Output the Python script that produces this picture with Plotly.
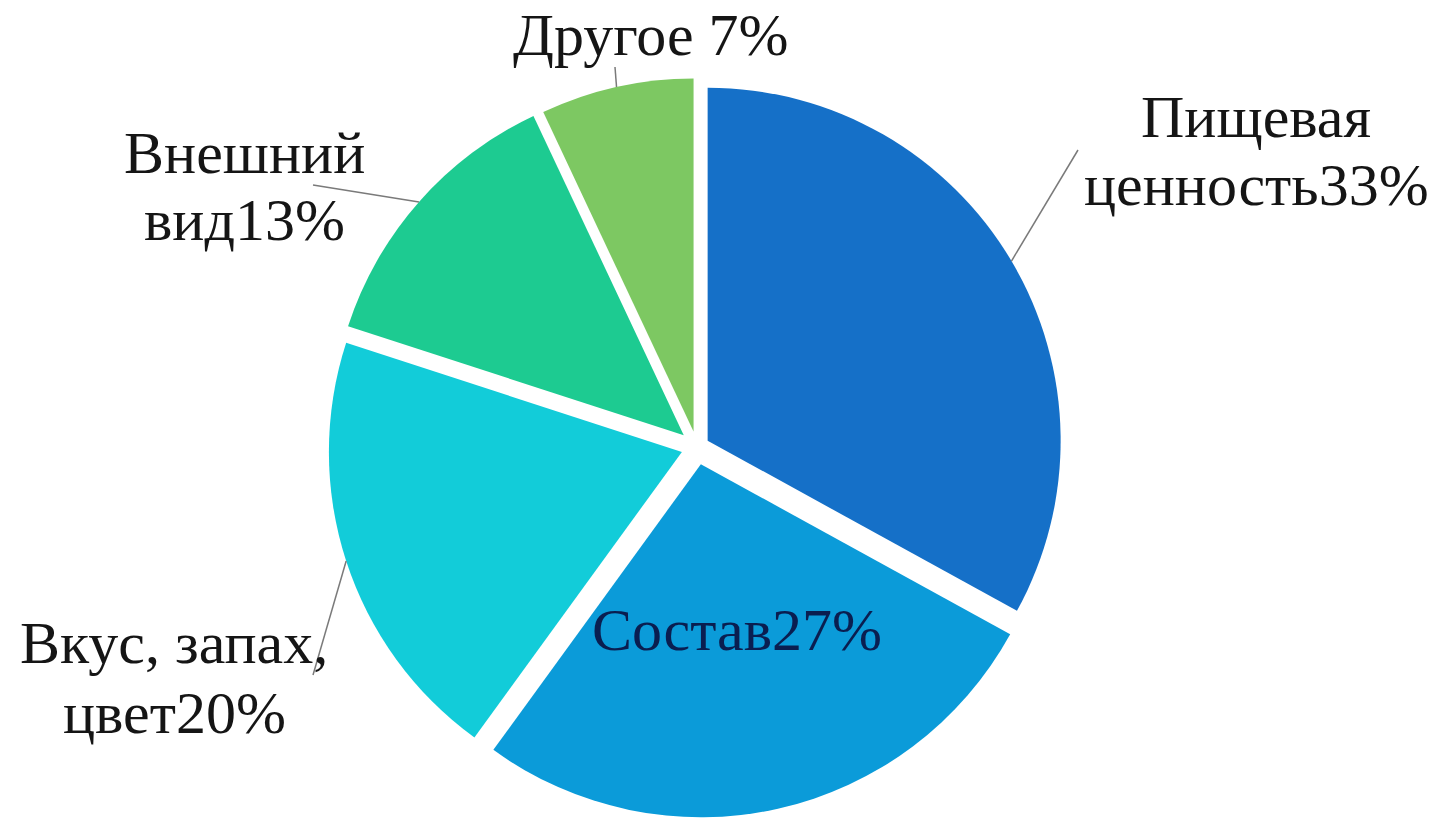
import math
import plotly.graph_objects as go

# ---- data ----
labels = ["Пищевая ценность", "Состав", "Вкус, запах, цвет", "Внешний вид", "Другое"]
values = [33, 27, 20, 13, 7]
label_prefix = ["Пищевая<br>ценность", "Состав", "Вкус, запах,<br>цвет", "Внешний<br>вид", "Другое "]

# ---- style ----
colors = ["#1570C8", "#0B9BD9", "#12CCD9", "#1DCB91", "#7DC862"]
pulls = [0.035, 0.05, 0.045, 0.05, 0.045]
text_colors = ["#151515", "#0A1E50", "#151515", "#151515", "#151515"]
FONT = "Liberation Serif, Times New Roman, serif"
FS = 60

W, H = 1439, 818
CX, CY, R = 697, 447, 353

# label line centres (pixels) and leader end points (None -> no leader)
line_pos = [
    [(1256, 117), (1256, 185)],
    [(737, 630)],
    [(174, 643), (174, 713)],
    [(244, 153), (244, 220)],
    [(651, 35)],
]
leader_end = [(1078, 150), None, (313, 675), (313, 185), (615, 67)]

maxpull = max(pulls)
half = R * (1 + maxpull)
dom_x = [(CX - half) / W, (CX + half) / W]
dom_y = [max(0, 1 - (CY + half) / H), min(1, 1 - (CY - half) / H)]

fig = go.Figure(go.Pie(
    labels=labels, values=values, sort=False, direction="clockwise", rotation=0,
    pull=pulls, marker=dict(colors=colors, line=dict(width=0)),
    textinfo="none", hoverinfo="label+percent", showlegend=False,
    domain=dict(x=dom_x, y=dom_y),
))

def px(x, y):
    return x / W, 1 - y / H

annotations = []
shapes = []
total = sum(values)
cum = 0
for i, v in enumerate(values):
    mid = (cum + v / 2) / total * 360
    cum += v
    text = f"{label_prefix[i]}{v}%"
    lines = text.split("<br>")
    for line, (lx, ly) in zip(lines, line_pos[i]):
        ax_, ay_ = px(lx, ly)
        annotations.append(dict(
            x=ax_, y=ay_, xref="paper", yref="paper", text=line, showarrow=False,
            xanchor="center", yanchor="middle",
            font=dict(family=FONT, size=FS, color=text_colors[i]),
        ))
    if leader_end[i] is not None:
        t = math.radians(mid)
        sx = CX + R * (1 + pulls[i]) * math.sin(t)
        sy = CY - R * (1 + pulls[i]) * math.cos(t)
        x0, y0 = px(sx, sy)
        x1, y1 = px(*leader_end[i])
        shapes.append(dict(type="line", xref="paper", yref="paper",
                           x0=x0, y0=y0, x1=x1, y1=y1,
                           line=dict(color="#7a7a7a", width=1.5)))

fig.update_layout(
    width=W, height=H, margin=dict(l=0, r=0, t=0, b=0),
    paper_bgcolor="white", plot_bgcolor="white",
    annotations=annotations, shapes=shapes,
)

fig.write_html("out.html")
